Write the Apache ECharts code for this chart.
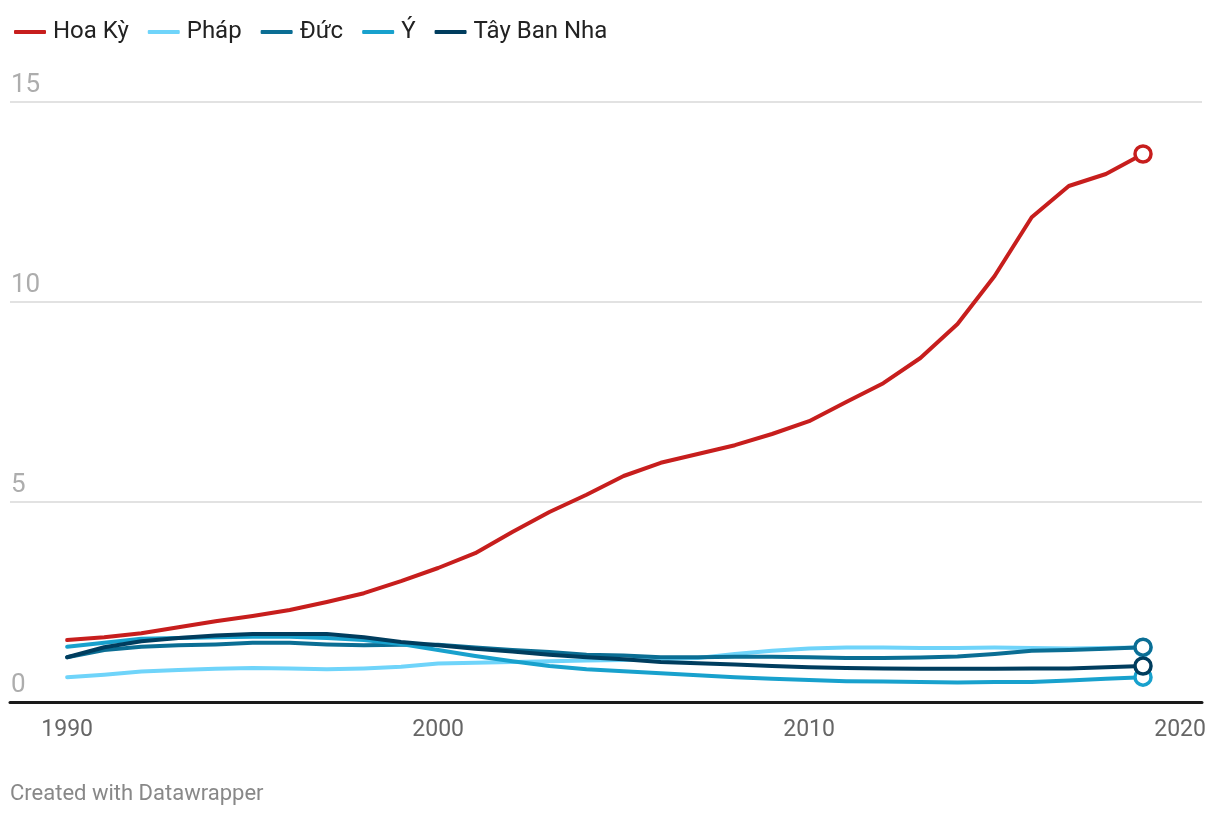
<!DOCTYPE html>
<html><head><meta charset="utf-8">
<script src="https://cdn.jsdelivr.net/npm/echarts@6/dist/echarts.min.js"></script>
<style>html,body{margin:0;padding:0;background:#fff}#c{width:1220px;height:818px}</style>
</head><body><div id="c"></div>
<script>
const years = [1990,1991,1992,1993,1994,1995,1996,1997,1998,1999,2000,2001,2002,2003,2004,2005,2006,2007,2008,2009,2010,2011,2012,2013,2014,2015,2016,2017,2018,2019];
const hoaKy = [1.55,1.62,1.72,1.87,2.02,2.15,2.3,2.5,2.72,3.02,3.35,3.72,4.25,4.75,5.18,5.65,5.98,6.2,6.42,6.7,7.02,7.5,7.97,8.6,9.45,10.65,12.12,12.9,13.2,13.7];
const phap = [0.62,0.68,0.76,0.8,0.83,0.85,0.84,0.82,0.84,0.88,0.96,0.98,1.0,1.02,1.04,1.05,1.07,1.1,1.2,1.28,1.34,1.36,1.36,1.35,1.35,1.36,1.35,1.34,1.35,1.36];
const duc = [1.12,1.3,1.38,1.42,1.44,1.48,1.48,1.44,1.42,1.43,1.43,1.36,1.3,1.25,1.18,1.16,1.12,1.12,1.13,1.13,1.12,1.1,1.1,1.11,1.14,1.2,1.28,1.3,1.33,1.37];
const y = [1.38,1.48,1.58,1.6,1.62,1.63,1.63,1.6,1.55,1.45,1.3,1.15,1.02,0.9,0.82,0.77,0.72,0.67,0.62,0.58,0.55,0.52,0.51,0.5,0.49,0.5,0.5,0.54,0.58,0.62];
const tayBanNha = [1.12,1.37,1.52,1.6,1.66,1.7,1.7,1.7,1.62,1.5,1.42,1.33,1.26,1.18,1.12,1.07,1.0,0.97,0.94,0.9,0.87,0.85,0.84,0.83,0.83,0.83,0.84,0.84,0.87,0.9];
const yTicks = [0,5,10,15];
const xTicks = [1990,2000,2010,2020];

const names = ['Hoa Kỳ','Pháp','Đức','Ý','Tây Ban Nha'];
const colors = ['#c71e1d','#6fd4fa','#0b6e94','#18a1cd','#003d5e'];
const values = [hoaKy, phap, duc, y, tayBanNha];

function mk(vals, color){
  return vals.map((v,i)=>{
    if(i===vals.length-1){
      return {value:[years[i], v], symbol:'circle', symbolSize:16,
        itemStyle:{color:'#fff', borderColor:color, borderWidth:3.5}};
    }
    return {value:[years[i], v], symbol:'none'};
  });
}

const chart = echarts.init(document.getElementById('c'));
chart.setOption({
  animation:false,
  color: colors,
  textStyle:{fontFamily:'Roboto'},
  legend:{
    left:9, top:15, itemWidth:32, itemHeight:4, itemGap:19, icon:'roundRect',
    textStyle:{fontSize:24, color:'#222', fontFamily:'Roboto', padding:[0,0,0,2]},
    data:names
  },
  grid:{left:10, right:18, top:102, bottom:116, containLabel:false},
  xAxis:{
    type:'value', min:1988.46, max:2020.59,
    axisLine:{show:true, lineStyle:{color:'#1a1a1a', width:3}},
    axisTick:{show:false},
    splitLine:{show:false},
    axisLabel:{customValues:xTicks, fontSize:23, color:'#666', margin:17, fontFamily:'Roboto',
      formatter:v=>String(v)}
  },
  yAxis:{
    type:'value', min:0, max:15, interval:5,
    axisLine:{show:false}, axisTick:{show:false},
    splitLine:{lineStyle:{color:'#e2e2e2', width:2}},
    axisLabel:{customValues:yTicks, inside:true, verticalAlign:'bottom', align:'left', margin:0, padding:[0,0,4,1],
      fontSize:26, color:'#adadad', fontFamily:'Roboto'}
  },
  series: names.map((n,k)=>({
    name:n, type:'line', data: mk(values[k], colors[k]),
    showSymbol:true, showAllSymbol:true, symbol:'none',
    lineStyle:{width:4, color:colors[k], cap:'round', join:'round'},
    itemStyle:{color:colors[k]},
    z: 2+k
  })),
  graphic:[{type:'text', left:10, top:783, style:{text:'Created with Datawrapper', fontSize:22, fill:'#888', fontFamily:'Roboto'}}]
});
</script></body></html>
